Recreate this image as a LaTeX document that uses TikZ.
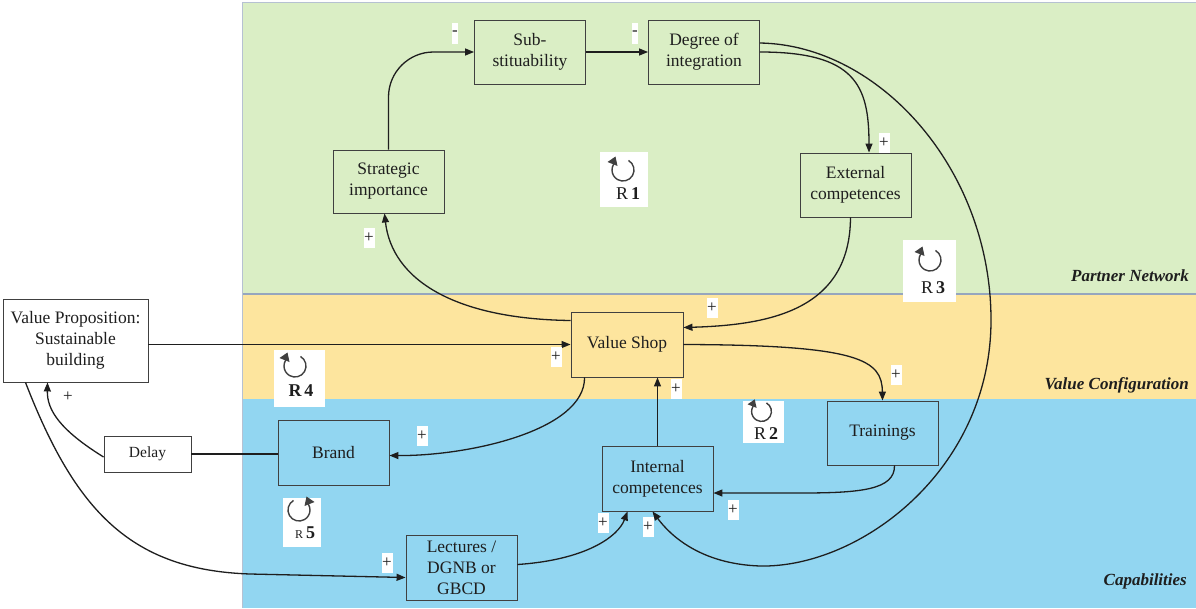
\documentclass[tikz,border=0pt]{standalone}
\usepackage{fontspec}
\setmainfont{Liberation Serif}
\usetikzlibrary{arrows.meta,calc}
\definecolor{netgreen}{RGB}{218,238,197}
\definecolor{cfgyellow}{RGB}{253,229,158}
\definecolor{capblue}{RGB}{146,214,241}
\definecolor{zoneline}{RGB}{150,166,190}
\definecolor{ink}{RGB}{30,30,30}
% open circular arrow used as the marker of a reinforcing loop
\tikzset{
  rsym/.pic={
    \draw[line width=1.4pt, draw=ink!85] (-60:11) arc[start angle=-60, end angle=212, radius=11];
    \fill[ink!85] (-15.5,-8) -- (-7.5,-13.5) -- (-5.5,-4) -- cycle;
  }
}
\begin{document}
\begin{tikzpicture}[x=1pt,y=-1pt,
  every node/.style={text=ink},
  box/.style={draw=ink!85, line width=0.9pt, minimum width=111pt, minimum height=64pt,
    align=center, inner sep=2pt, font=\fontsize{17.5}{21}\selectfont},
  conn/.style={draw=ink, line width=1.3pt},
  arr/.style={conn, -{Triangle[length=9pt,width=7pt]}},
  sgn/.style={fill=white, inner sep=0pt, minimum width=11pt, minimum height=20pt,
    font=\fontsize{17}{17}\selectfont},
  msgn/.style={sgn, minimum width=5pt, minimum height=21pt},
  lbox/.style={fill=white, inner sep=0pt},
  zone/.style={anchor=east, inner sep=0pt, font=\fontsize{17}{17}\selectfont\bfseries\itshape},
  rtag/.style={inner sep=0pt, font=\fontsize{18}{18}\selectfont}
]
\useasboundingbox (0,0) rectangle (1196,608);
\fill[white] (0,0) rectangle (1196,608);

% zones
\fill[netgreen] (242,2) rectangle (1196,294);
\fill[cfgyellow] (242,294) rectangle (1196,399);
\fill[capblue] (242,399) rectangle (1196,608);
\draw[zoneline, line width=1.8pt] (242,294) -- (1196,294);
\draw[zoneline!70, line width=0.8pt] (1196,2) -- (242,2) -- (242,608);

\node[zone] (zpn) at (1189,276) {Partner Network};
\node[zone] (zvc) at (1189,385) {Value Configuration};
\node[zone] (zcap) at (1187,581) {Capabilities};

% loop markers
\node[lbox, minimum width=48pt, minimum height=55pt] (r1box) at (624,179.5) {};
\node[lbox, minimum width=53pt, minimum height=62pt] (r3box) at (929.5,271) {};
\node[lbox, minimum width=51pt, minimum height=57pt] (r4box) at (299.5,378.5) {};
\node[lbox, minimum width=41pt, minimum height=42pt] (r2box) at (763.5,422) {};
\node[lbox, minimum width=38pt, minimum height=49pt] (r5box) at (302,522.5) {};

\pic at (623,170) {rsym};
\pic at (930,260) {rsym};
\pic at (295,366) {rsym};
\pic[scale=0.9] at (761.5,411.5) {rsym};
\pic[xscale=-1] at (299,510) {rsym};

\node[rtag] (r1t) at (628,194) {R\,\textbf{1}};
\node[rtag] (r3t) at (933,288) {R\,\textbf{3}};
\node[rtag] (r4t) at (301,391) {\textbf{R\,4}};
\node[rtag] (r2t) at (766,434) {R\,\textbf{2}};
\node[rtag] (r5t) at (305,533) {{\fontsize{12}{12}\selectfont R}\,\textbf{5}};

% variables
\node[box, fill=white, minimum width=145pt, minimum height=83pt] (vp) at (75.5,340.5)
  {Value Proposition:\\Sustainable\\building};
\node[box, fill=white, minimum width=87pt, minimum height=36pt,
  font=\fontsize{15.5}{18}\selectfont] (delay) at (147.5,454) {Delay};
\node[box] (sub) at (530,52) {Sub-\\stituability};
\node[box] (deg) at (704,52) {Degree of\\integration};
\node[box, minimum height=63pt] (si) at (388.5,181.5) {Strategic\\importance};
\node[box] (ext) at (855.5,185) {External\\competences};
\node[box, minimum width=112pt, minimum height=65pt] (vs) at (627,344.5) {Value Shop};
\node[box, minimum height=65pt] (brand) at (333.5,452.5) {Brand};
\node[box] (train) at (882.5,433) {Trainings};
\node[box, minimum height=65pt] (ic) at (657.5,478.5) {Internal\\competences};
\node[box, minimum height=65pt] (lec) at (461.5,567.5) {Lectures /\\DGNB or\\GBCD};

% links
\draw[arr, rounded corners=45pt] (si.north) |- (sub.west);
\draw[arr] (sub.east) -- (deg.west);
\draw[arr] (deg.east) .. controls (855,52) and (869,85) .. ($(ext.north)+(13.5,0)$);
\draw[arr] ($(deg.east)+(0,-9)$) .. controls (880,45) and (991,170) .. (991,320)
  .. controls (991,470) and (860,568) .. (760,566)
  .. controls (700,564) and (670,535) .. ($(ic.south)+(-5,0)$);
\draw[arr] ($(ext.south)+(-5,0)$) .. controls (850,310) and (770,325) .. ($(vs.east)+(0,-17)$);
\draw[arr] ($(vs.west)+(0,-24)$) .. controls (455,319) and (392,280) .. ($(si.south)+(-4,0)$);
\draw[arr] (vp.east |- vs.west) -- (vs.west);
\draw[arr] ($(vs.south west)+(14,0)$) .. controls (585,430) and (470,456) .. ($(brand.east)+(0,3)$);
\draw[conn] (delay.east) -- (delay.east -| brand.west);
\draw[arr] ($(delay.west)+(0,3)$) .. controls (60,430) and (47,410) .. ($(vp.south)+(-28,0)$);
\draw[arr] ($(vp.south)+(-50,0)$) .. controls (75,510) and (130,570) .. (250,574)
  -- ($(lec.west)+(0,10)$);
\draw[arr] ($(lec.east)+(0,-3)$) .. controls (585,560) and (618,537) .. ($(ic.south)+(-30,0)$);
\draw[arr] (ic.north) -- (ic.north |- vs.south);
\draw[arr] (vs.east) .. controls (860,345) and (882,360) .. (train.north);
\draw[arr] ($(train.south)+(12,0)$) .. controls (895,490) and (860,493) .. (800,493)
  -- ($(ic.east)+(0,14.5)$);

% polarities
\node[msgn] (m1) at (455,33) {-};
\node[msgn] (m2) at (635,33) {-};
\node[sgn] (p1) at (369,238) {+};
\node[sgn] (p2) at (884,143) {+};
\node[sgn] (p3) at (712,308) {+};
\node[sgn] (p4) at (556,357) {+};
\node[sgn] (p5) at (676,389) {+};
\node[sgn] (p6) at (896,375) {+};
\node[sgn] (p7) at (422,436) {+};
\node[sgn] (p8) at (68,397) {+};
\node[sgn] (p9) at (387,563) {+};
\node[sgn] (p10) at (603,523) {+};
\node[sgn] (p11) at (648,527) {+};
\node[sgn] (p12) at (733,510) {+};
\end{tikzpicture}
\end{document}
